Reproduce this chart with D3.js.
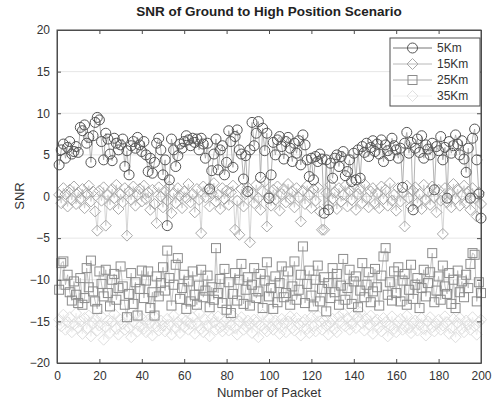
<!DOCTYPE html>
<html><head><meta charset="utf-8">
<script src="https://cdn.jsdelivr.net/npm/d3@7"></script>
<style>body{margin:0;background:#fff}svg{display:block;font-family:"Liberation Sans",Arial,sans-serif}</style>
</head><body><svg id="c" width="497" height="403"></svg>
<script>
const xTicks = [0,20,40,60,80,100,120,140,160,180,200];
const yTicks = [-20,-15,-10,-5,0,5,10,15,20];
const seriesNames = ["5Km","15Km","25Km","35Km"];

const snr5 = [3.8,5.6,6.3,4.6,5.9,6.6,5.1,5.4,6.0,5.3,
8.3,7.9,8.6,6.4,7.1,4.1,7.3,8.9,9.5,9.2,
6.6,4.4,7.6,6.9,5.1,4.3,7.0,6.4,5.6,6.2,
6.9,3.6,5.5,2.6,6.1,6.6,5.8,7.1,6.2,5.4,
6.6,5.0,3.0,4.6,2.8,4.1,6.4,7.0,5.6,2.6,
4.4,-3.5,2.0,6.9,5.6,3.6,4.9,6.3,5.8,6.6,
7.3,6.8,6.1,7.0,6.5,6.9,5.6,7.0,6.3,4.6,
6.4,0.9,3.1,5.1,6.9,3.2,5.6,6.1,2.6,4.1,
7.9,6.6,3.5,7.2,8.0,5.6,5.1,2.1,4.9,0.6,
5.6,8.9,6.1,7.6,9.0,2.3,8.2,5.5,7.6,-0.2,
2.6,6.5,5.0,6.8,7.2,6.0,4.5,6.6,7.1,5.8,
4.2,6.4,5.2,6.7,3.8,7.4,6.2,4.4,2.4,4.6,
2.0,4.8,4.2,5.1,4.5,-2.0,4.4,-1.6,4.0,2.2,
4.6,5.0,3.6,4.8,5.4,2.5,3.0,4.4,1.8,5.2,
2.0,5.6,2.2,6.0,5.3,6.4,4.8,5.9,6.7,5.4,
6.3,5.1,6.8,4.2,6.2,5.5,4.9,7.0,6.1,5.6,
4.6,5.8,1.1,6.4,7.7,5.2,6.5,-1.6,5.8,6.9,
5.3,7.3,4.6,6.2,5.7,5.0,6.4,0.8,6.0,5.5,
7.2,4.4,5.9,-0.2,6.6,5.2,6.1,7.4,6.3,5.0,
6.7,4.5,2.9,5.8,-0.2,7.0,8.1,4.4,0.3,-2.6];

const snr15 = [0.2,-0.8,1.0,0.3,-1.2,0.8,-0.4,1.2,-0.9,0.5,
-0.3,0.9,-1.4,0.4,1.3,-0.6,0.6,-1.8,-4.1,0.7,
-0.5,1.1,-3.5,0.2,-1.0,0.9,-0.2,1.4,-1.5,0.3,
-0.7,1.0,-4.7,0.6,-0.4,1.2,-1.1,0.2,0.9,-0.6,
1.3,-0.3,0.5,-1.6,0.8,-0.9,-3.2,1.1,0.0,-1.3,
0.7,-0.5,1.2,-2.0,0.4,-0.8,1.0,0.1,-1.4,0.6,
-0.2,1.5,-0.7,0.3,-1.9,0.9,-0.4,-4.4,1.2,-0.1,
0.8,-1.2,0.4,1.6,-0.6,0.2,-1.5,1.0,-0.3,0.7,
-1.0,0.5,1.3,-4.0,-0.5,-4.6,0.9,-1.2,0.3,1.1,
-5.5,0.4,-0.8,1.4,-0.2,-1.6,0.6,1.8,-3.6,0.1,
-1.1,0.8,-0.4,1.2,-1.7,0.3,0.9,-0.7,1.5,-0.3,
0.6,-1.3,1.0,-0.1,-3.0,0.7,-0.9,1.3,0.2,-1.4,
0.9,-0.5,1.1,-1.8,-4.0,-4.0,0.4,-1.0,1.4,-0.3,
0.5,-1.5,1.0,-0.6,0.2,1.3,-1.2,0.7,-0.4,1.1,
-1.6,0.3,0.9,-0.8,1.5,-0.2,-1.3,0.6,1.0,-0.9,
0.4,-1.4,1.2,-0.3,0.8,-1.1,1.6,-0.5,0.2,-1.7,
1.0,-0.6,0.5,-3.6,1.3,-0.2,-1.2,0.7,1.1,-0.8,
0.3,-1.5,1.4,-0.4,0.6,-1.0,1.2,-0.1,-1.9,0.8,
-0.5,-4.5,1.0,-0.7,0.4,-1.3,1.5,-0.3,0.9,-1.1,
0.2,1.3,-0.8,0.6,-1.6,1.0,-0.2,-2.4,0.5,-0.9];

const snr25 = [-11.2,-8.0,-7.8,-10.6,-9.4,-11.5,-12.5,-10.2,-11.8,-12.8,
-9.8,-13.0,-12.2,-8.6,-10.9,-7.7,-11.4,-12.6,-13.5,-9.0,
-10.5,-12.0,-8.8,-11.6,-13.2,-10.0,-9.3,-12.4,-11.0,-8.4,
-10.8,-13.0,-14.5,-11.7,-9.2,-12.9,-10.3,-14.3,-11.1,-8.9,
-12.2,-10.1,-9.0,-13.4,-11.5,-14.3,-9.6,-12.0,-10.4,-8.5,
-11.3,-6.5,-9.8,-13.1,-10.6,-8.2,-7.4,-12.3,-11.0,-9.4,
-13.5,-10.2,-12.6,-9.0,-11.8,-13.0,-10.7,-8.8,-12.1,-11.3,
-9.5,-13.3,-10.9,-12.4,-6.2,-11.6,-9.9,-12.8,-8.7,-13.6,
-10.3,-14.0,-11.7,-9.2,-12.5,-10.0,-8.1,-12.9,-11.2,-9.7,
-13.1,-10.6,-8.6,-12.2,-11.4,-9.3,-13.4,-10.1,-7.9,-12.0,
-11.0,-13.5,-9.6,-12.7,-10.4,-8.4,-12.1,-11.6,-9.0,-13.0,
-10.8,-7.8,-12.4,-11.2,-9.4,-6.0,-12.8,-10.5,-8.9,-11.9,
-13.2,-10.0,-8.3,-12.6,-11.1,-9.7,-13.8,-10.4,-12.2,-8.6,
-11.5,-9.3,-13.0,-10.7,-7.5,-12.4,-11.0,-8.8,-12.9,-10.2,
-9.6,-13.3,-11.3,-8.0,-12.1,-10.6,-9.1,-12.7,-11.4,-8.7,
-10.9,-13.1,-9.5,-7.2,-6.2,-11.8,-10.3,-12.5,-9.0,-11.6,
-8.5,-12.6,-10.1,-9.3,-13.0,-11.2,-8.2,-12.3,-10.6,-9.8,
-13.4,-11.0,-8.8,-12.0,-10.4,-9.1,-6.8,-12.7,-11.3,-9.6,
-12.4,-8.3,-10.8,-11.7,-9.2,-12.9,-10.0,-13.4,-8.9,-11.5,
-10.2,-12.1,-9.4,-11.0,-8.1,-6.8,-7.0,-12.6,-10.3,-11.6];

const snr35 = [-14.8,-15.6,-14.2,-16.0,-15.1,-14.5,-16.3,-15.4,-14.0,-15.8,
-15.0,-16.5,-14.6,-15.9,-14.3,-16.8,-15.2,-14.7,-16.1,-15.5,
-14.4,-17.2,-15.7,-14.9,-16.4,-15.0,-14.1,-15.9,-16.6,-14.8,
-15.3,-16.0,-14.5,-15.8,-16.9,-15.1,-14.2,-16.2,-15.6,-14.6,
-15.9,-16.3,-14.8,-15.2,-16.7,-14.4,-15.6,-16.1,-14.9,-15.5,
-16.2,-14.7,-15.4,-16.6,-14.3,-15.8,-15.1,-16.4,-14.6,-15.7,
-14.9,-16.0,-15.3,-14.5,-16.5,-15.2,-14.0,-15.9,-16.3,-14.8,
-15.5,-16.8,-14.6,-15.1,-16.0,-14.4,-15.7,-16.2,-15.0,-14.7,
-16.1,-15.4,-14.3,-15.8,-16.6,-15.0,-14.5,-16.0,-15.6,-14.9,
-15.3,-16.4,-14.8,-15.1,-16.9,-15.5,-14.2,-15.9,-16.2,-14.6,
-15.7,-16.0,-14.9,-15.4,-16.5,-14.7,-15.2,-16.3,-15.0,-14.4,
-15.8,-16.1,-14.6,-15.3,-16.7,-15.1,-14.8,-15.9,-16.4,-14.5,
-15.6,-16.2,-14.3,-15.0,-16.0,-14.9,-15.5,-16.6,-15.2,-14.7,
-15.9,-16.3,-14.4,-15.1,-14.0,-15.6,-14.6,-16.0,-15.3,-14.2,
-15.8,-14.5,-13.9,-15.2,-16.1,-14.7,-15.4,-14.3,-16.5,-15.0,
-14.8,-15.7,-16.2,-14.6,-15.1,-16.8,-15.5,-14.4,-15.9,-16.3,
-15.0,-14.7,-16.0,-15.6,-14.3,-15.8,-16.4,-15.2,-14.9,-16.1,
-15.4,-14.6,-15.9,-16.7,-15.0,-14.5,-15.7,-16.2,-15.3,-14.8,
-16.0,-15.5,-14.4,-15.1,-16.5,-15.8,-14.7,-16.9,-15.2,-14.6,
-15.9,-16.3,-14.9,-15.4,-16.0,-14.5,-15.6,-16.6,-15.1,-14.8];

const svg = d3.select("#c");
const L=57, R=481, T=30, B=363;
const x = d3.scaleLinear().domain([0,200]).range([L,R]);
const y = d3.scaleLinear().domain([-20,20]).range([B,T]);
const axisCol="#4d4d4d";

svg.append("g").selectAll("line").data(yTicks.slice(1,-1)).join("line")
  .attr("x1",L).attr("x2",R).attr("y1",d=>y(d)).attr("y2",d=>y(d))
  .attr("stroke","#e6e6e6").attr("stroke-width",1);

const pts = arr => arr.map((v,i)=>[i+1,v]);
const line = d3.line().x(d=>x(d[0])).y(d=>y(d[1]));

const specs = [
 {data:snr35, sym:"diamond", mk:"#dedede", ln:"#ececec", s:5.5},
 {data:snr25, sym:"square", mk:"#8c8c8c", ln:"#b4b4b4", s:4.5},
 {data:snr15, sym:"diamond", mk:"#a8a8a8", ln:"#cacaca", s:5.5},
 {data:snr5, sym:"circle", mk:"#555555", ln:"#a0a0a0", s:5}
];
function marker(g, sym, cx, cy, s, col){
  if(sym==="circle") g.append("circle").attr("cx",cx).attr("cy",cy).attr("r",s).attr("fill","none").attr("stroke",col).attr("stroke-width",1);
  else if(sym==="square") g.append("rect").attr("x",cx-s).attr("y",cy-s).attr("width",2*s).attr("height",2*s).attr("fill","none").attr("stroke",col).attr("stroke-width",1);
  else g.append("path").attr("d",`M${cx},${cy-s}L${cx+s},${cy}L${cx},${cy+s}L${cx-s},${cy}Z`).attr("fill","none").attr("stroke",col).attr("stroke-width",1);
}
specs.forEach(sp=>{
  const g = svg.append("g");
  const p = pts(sp.data);
  g.append("path").attr("d",line(p)).attr("fill","none").attr("stroke",sp.ln).attr("stroke-width",0.8);
  p.forEach(d=>marker(g, sp.sym, x(d[0]), y(d[1]), sp.s, sp.mk));
});

const ax = svg.append("g");
ax.append("rect").attr("x",L).attr("y",T).attr("width",R-L).attr("height",B-T).attr("fill","none").attr("stroke",axisCol).attr("stroke-width",1);
const xb = svg.append("g").attr("transform",`translate(0,${B})`).call(d3.axisBottom(x).tickValues(xTicks).tickSizeInner(-4).tickSizeOuter(0).tickPadding(8));
const xt = svg.append("g").attr("transform",`translate(0,${T})`).call(d3.axisTop(x).tickValues(xTicks).tickSizeInner(-4).tickSizeOuter(0).tickFormat(""));
const yl = svg.append("g").attr("transform",`translate(${L},0)`).call(d3.axisLeft(y).tickValues(yTicks).tickSizeInner(-4).tickSizeOuter(0).tickPadding(7));
const yr = svg.append("g").attr("transform",`translate(${R},0)`).call(d3.axisRight(y).tickValues(yTicks).tickSizeInner(-4).tickSizeOuter(0).tickFormat(""));
[xb,xt,yl,yr].forEach(g=>{
  g.select(".domain").attr("stroke",axisCol);
  g.selectAll(".tick line").attr("stroke",axisCol);
  g.selectAll("text").attr("fill","#333").style("font-size","12px").style("font-family","'Liberation Sans',Arial,sans-serif");
});

svg.append("text").attr("x",269).attr("y",16).attr("text-anchor","middle")
  .style("font-weight","bold").style("font-size","13.5px").attr("fill","#222")
  .text("SNR of Ground to High Position Scenario");
svg.append("text").attr("x",269).attr("y",397).attr("text-anchor","middle")
  .style("font-size","13px").attr("fill","#333").text("Number of Packet");
svg.append("text").attr("transform","translate(24,196) rotate(-90)").attr("text-anchor","middle")
  .style("font-size","13px").attr("fill","#333").text("SNR");

const lg = svg.append("g");
lg.append("rect").attr("x",390).attr("y",38).attr("width",90).attr("height",68).attr("fill","#fff").attr("stroke",axisCol).attr("stroke-width",1);
const legSpecs = [
 {sym:"circle", mk:"#555555", ln:"#777777", s:5},
 {sym:"diamond", mk:"#a8a8a8", ln:"#b8b8b8", s:5.5},
 {sym:"square", mk:"#8c8c8c", ln:"#a8a8a8", s:4.5},
 {sym:"diamond", mk:"#e0e0e0", ln:"#eeeeee", s:5.5}
];
seriesNames.forEach((n,i)=>{
  const cy = 48 + i*16;
  lg.append("line").attr("x1",393).attr("x2",432).attr("y1",cy).attr("y2",cy).attr("stroke",legSpecs[i].ln).attr("stroke-width",1);
  marker(lg, legSpecs[i].sym, 412.5, cy, legSpecs[i].s, legSpecs[i].mk);
  lg.append("text").attr("x",437).attr("y",cy+4).style("font-size","12px").attr("fill","#333").text(n);
});
</script></body></html>
